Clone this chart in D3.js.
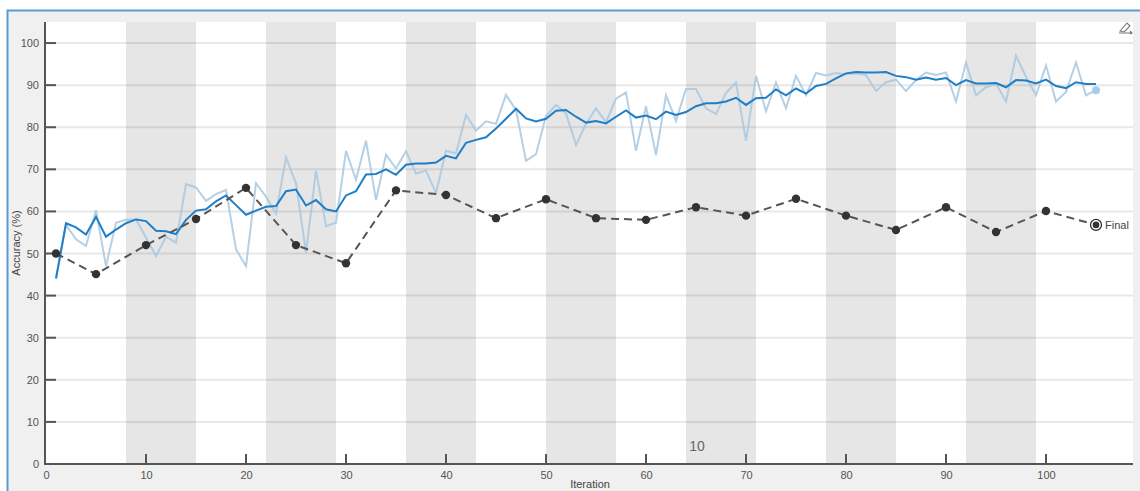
<!DOCTYPE html>
<html><head><meta charset="utf-8">
<script src="https://cdn.jsdelivr.net/npm/d3@7/dist/d3.min.js"></script>
<style>body{margin:0;background:#fff;}svg{display:block;font-family:"Liberation Sans",Arial,sans-serif;}</style>
</head><body><svg id="c" width="1140" height="491"></svg>
<script>
const iterations = d3.range(1, 106);
const rawAcc = [44,56.8,53.4,51.8,60.3,47,57.3,58,58.1,53.8,49.4,54,52.6,66.5,65.7,62.5,64.1,65.1,51,47,
66.7,63.5,59.5,72.8,66.7,50.2,69.7,56.5,57.3,74.4,67.5,76.8,62.7,73.5,70.2,74.3,69,69.7,64.4,74.4,
73.8,82.9,79.2,81.4,80.8,87.7,84.1,72,73.6,82.7,85.3,83.3,75.8,80.8,84.5,81.2,86.8,88.3,74.4,85,
73.4,87.6,81.5,89.1,89.1,84.5,83.1,88.2,90.6,76.8,92.2,83.8,90.6,84.5,92.2,87.6,92.9,92.3,92.9,92.6,
92.8,92.4,88.6,90.7,91.3,88.6,91.2,93,92.4,93,86.1,95.4,87.6,89.5,90.4,86.1,97,92,87.6,94.7,
86.1,88.4,95.4,87.6,88.8];
const smoothAcc = [44.1,57.2,56.2,54.5,58.7,54,55.7,57.2,58.1,57.7,55.4,55.3,54.6,58,60.2,60.5,62.4,63.8,61.5,59.2,
60.2,61.1,61.3,64.8,65.2,61.4,62.7,60.5,60,63.8,64.8,68.8,68.9,70,68.7,71.1,71.4,71.4,71.6,73.2,
72.6,76.3,77,77.6,79.7,82,84.4,82.1,81.4,82,83.9,84.1,82.5,81.1,81.5,80.9,82.5,84,82.3,82.8,
81.9,83.7,82.9,83.6,85,85.7,85.7,86.1,87,85.3,86.9,87,89,87.6,89.2,88,89.8,90.3,91.6,92.8,
93.1,93,93,93.1,92.2,91.9,91.3,91.8,91.3,91.7,90,91.2,90.4,90.4,90.5,89.5,91.2,91.1,90.4,91.3,
89.8,89.3,90.7,90.3,90.3];
const evalIters = [1,5,10,15,20,25,30,35,40,45,50,55,60,65,70,75,80,85,90,95,100];
const evalAcc = [50,45.1,52,58.2,65.6,52,47.7,65,63.9,58.4,62.9,58.4,58,61,59,63,59,55.6,61,55.1,60.1];
const finalIter = 105, finalAcc = 56.8, finalLabel = "Final";
const xTicks = [0,10,20,30,40,50,60,70,80,90,100];
const yTicks = [0,10,20,30,40,50,60,70,80,90,100];
const bandStarts = [8,22,36,50,64,78,92]; const bandWidth = 7;

const svg = d3.select("#c");
// frame
svg.append("rect").attr("x",7).attr("y",10).attr("width",1133).attr("height",481).attr("fill","#f0f0f0");
svg.append("path").attr("d","M7.5,491 V10.5 H1140").attr("fill","none").attr("stroke","#5b9bd5").attr("stroke-width",2);

const x = d3.scaleLinear().domain([0,108.7]).range([46,1133]);
const y = d3.scaleLinear().domain([0,105]).range([464,22]);

svg.append("rect").attr("x",46).attr("y",22).attr("width",1133-46).attr("height",442).attr("fill","#fff");
svg.append("g").selectAll("rect").data(bandStarts).join("rect")
  .attr("x",d=>x(d)).attr("y",22).attr("width",d=>x(d+bandWidth)-x(d)).attr("height",442).attr("fill","#e6e6e6");
svg.append("g").selectAll("line").data(yTicks.filter(d=>d>0)).join("line")
  .attr("x1",46).attr("x2",1133).attr("y1",d=>y(d)).attr("y2",d=>y(d))
  .attr("stroke","rgba(0,0,0,0.09)").attr("stroke-width",2);

// axes
const yAxis = d3.axisLeft(y).tickValues(yTicks).tickSize(0).tickPadding(6);
const gy = svg.append("g").attr("transform","translate(45,0)").call(yAxis);
gy.select(".domain").remove();
gy.selectAll("text").attr("fill","#555").attr("font-size",11);
svg.append("g").selectAll("line").data(yTicks).join("line")
  .attr("x1",45).attr("x2",56).attr("y1",d=>y(d)).attr("y2",d=>y(d)).attr("stroke","#555").attr("stroke-width",2);
const xAxis = d3.axisBottom(x).tickValues(xTicks).tickSize(0).tickPadding(7);
const gx = svg.append("g").attr("transform","translate(0,464)").call(xAxis);
gx.select(".domain").remove();
gx.selectAll("text").attr("fill","#555").attr("font-size",11);
svg.append("g").selectAll("line").data(xTicks.filter(d=>d>0)).join("line")
  .attr("x1",d=>x(d)).attr("x2",d=>x(d)).attr("y1",464).attr("y2",454).attr("stroke","#555").attr("stroke-width",2);
svg.append("line").attr("x1",45).attr("x2",45).attr("y1",22).attr("y2",465).attr("stroke","#555").attr("stroke-width",2);
svg.append("line").attr("x1",44).attr("x2",1133).attr("y1",464).attr("y2",464).attr("stroke","#555").attr("stroke-width",2);

svg.append("text").attr("x",590).attr("y",488).attr("text-anchor","middle").attr("font-size",11).attr("fill","#444").text("Iteration");
svg.append("text").attr("transform","translate(20,243) rotate(-90)").attr("text-anchor","middle").attr("font-size",11).attr("fill","#444").text("Accuracy (%)");
svg.append("text").attr("x",697).attr("y",451).attr("text-anchor","middle").attr("font-size",14).attr("fill","#666").text("10");

// lines
const line = d3.line().x((d,i)=>x(iterations[i])).y(d=>y(d));
svg.append("path").datum(rawAcc).attr("d",line).attr("fill","none").attr("stroke","#a8c8df").attr("stroke-width",2).attr("opacity",0.85);
svg.append("circle").attr("cx",x(iterations[iterations.length-1])).attr("cy",y(rawAcc[rawAcc.length-1])).attr("r",4).attr("fill","#a8cbe6");
svg.append("path").datum(smoothAcc).attr("d",line).attr("fill","none").attr("stroke","#1f7ec6").attr("stroke-width",2);

const evalPts = evalIters.map((d,i)=>[d,evalAcc[i]]).concat([[finalIter,finalAcc]]);
svg.append("path").datum(evalPts).attr("d",d3.line().x(d=>x(d[0])).y(d=>y(d[1])))
  .attr("fill","none").attr("stroke","#555").attr("stroke-width",2).attr("stroke-dasharray","8,5");
svg.append("g").selectAll("circle").data(evalIters).join("circle")
  .attr("cx",d=>x(d)).attr("cy",(d,i)=>y(evalAcc[i])).attr("r",4.2).attr("fill","#333");
svg.append("circle").attr("cx",x(finalIter)).attr("cy",y(finalAcc)).attr("r",5.5).attr("fill","#fff").attr("stroke","#333").attr("stroke-width",1.3);
svg.append("circle").attr("cx",x(finalIter)).attr("cy",y(finalAcc)).attr("r",3.3).attr("fill","#333");
svg.append("text").attr("x",x(finalIter)+9).attr("y",y(finalAcc)+4).attr("font-size",11).attr("fill","#444").text(finalLabel);

// icon
const ic = svg.append("g").attr("transform","translate(1118,20)").attr("fill","none").attr("stroke","#777").attr("stroke-width",1.1);
ic.append("path").attr("d","M2,11 L9,3 L12,6 L6,12 Z");
ic.append("path").attr("d","M1,13 H13 M12,11 l2,2 l-2,1");
</script></body></html>
